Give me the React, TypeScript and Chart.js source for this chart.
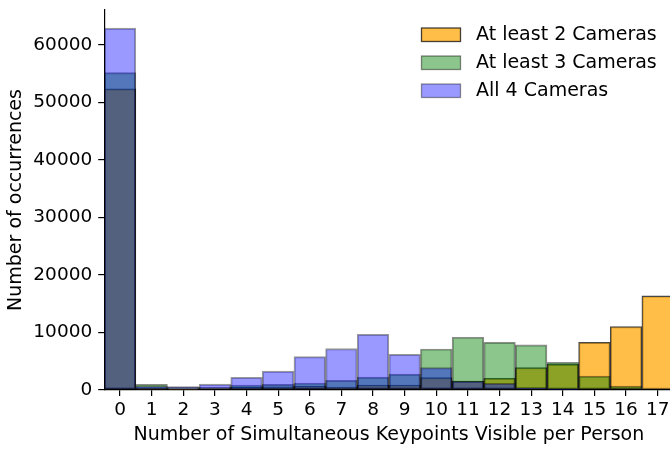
import { useEffect, useRef } from 'react';
import { Chart, registerables } from 'chart.js';

Chart.register(...registerables);

// Histogram bins: number of keypoints seen simultaneously
const binLabels = ['0', '1', '2', '3', '4', '5', '6', '7', '8', '9', '10', '11', '12', '13', '14', '15', '16', '17'];

// Occurrence counts per bin
const atLeast2Cameras = [52350, 300, 200, 350, 500, 570, 700, 520, 870, 870, 2140, 1550, 2030, 3880, 4470, 8290, 11010, 16350];
const atLeast3Cameras = [55180, 1000, 500, 500, 870, 1000, 1220, 1690, 2260, 2780, 7130, 9170, 8290, 7830, 4820, 2430, 700, 0];
const all4Cameras = [62900, 700, 600, 1040, 2200, 3300, 5800, 7180, 9680, 6210, 3900, 1550, 1150, 400, 100, 0, 0, 0];

const seriesNames = ['At least 2 Cameras', 'At least 3 Cameras', 'All 4 Cameras'];
const yTickValues = [0, 10000, 20000, 30000, 40000, 50000, 60000];

const FONT = 'DejaVu Sans';

// Legend drawn in the upper-right corner of the plot, matplotlib style (no frame)
const cornerLegend = {
  id: 'cornerLegend',
  afterDraw(chart: any) {
    const { ctx, chartArea } = chart;
    const boxLeft = chartArea.right - 252;
    const boxW = 39;
    const boxH = 13.5;
    const rowGap = 28;
    ctx.save();
    ctx.font = `19px "${FONT}"`;
    ctx.textAlign = 'left';
    ctx.textBaseline = 'middle';
    chart.data.datasets.forEach((ds: any, i: number) => {
      const top = chartArea.top + 18 + i * rowGap;
      ctx.fillStyle = ds.backgroundColor;
      ctx.fillRect(boxLeft, top, boxW, boxH);
      ctx.strokeStyle = ds.borderColor;
      ctx.lineWidth = 1.3;
      ctx.strokeRect(boxLeft, top, boxW, boxH);
      ctx.fillStyle = '#000';
      ctx.fillText(ds.label, boxLeft + 54.5, top + boxH / 2 + 0.5);
    });
    ctx.restore();
  },
};

export default function App() {
  const canvasRef = useRef<HTMLCanvasElement | null>(null);

  useEffect(() => {
    const canvas = canvasRef.current;
    if (!canvas) return;

    const yMax = Math.max(...atLeast2Cameras, ...atLeast3Cameras, ...all4Cameras) * 1.05;

    const common = {
      grouped: false,
      barPercentage: 1,
      categoryPercentage: 1,
      borderWidth: 1.3,
      borderSkipped: false as const,
    };

    const chart = new Chart(canvas, {
      type: 'bar',
      data: {
        labels: binLabels,
        datasets: [
          {
            ...common,
            label: seriesNames[0],
            data: atLeast2Cameras,
            backgroundColor: 'rgba(255,165,0,0.72)',
            borderColor: 'rgba(0,0,0,0.72)',
            order: 3,
          },
          {
            ...common,
            label: seriesNames[1],
            data: atLeast3Cameras,
            backgroundColor: 'rgba(0,128,0,0.45)',
            borderColor: 'rgba(0,0,0,0.45)',
            order: 2,
          },
          {
            ...common,
            label: seriesNames[2],
            data: all4Cameras,
            backgroundColor: 'rgba(0,0,255,0.4)',
            borderColor: 'rgba(0,0,0,0.4)',
            order: 1,
          },
        ],
      },
      options: {
        animation: false,
        responsive: false,
        maintainAspectRatio: false,
        devicePixelRatio: 1,
        layout: { padding: { left: 0, top: 10, right: 6.5, bottom: 0 } },
        plugins: {
          legend: { display: false },
          tooltip: { enabled: false },
        },
        scales: {
          x: {
            type: 'category',
            offset: true,
            z: 1,
            grid: {
              offset: false,
              drawOnChartArea: false,
              drawTicks: true,
              tickLength: 6,
              tickWidth: 1.2,
              tickColor: '#000',
              lineWidth: 1.2,
              color: '#000',
            },
            border: { display: true, color: '#000', width: 1.2 },
            ticks: {
              color: '#000',
              font: { family: FONT, size: 18.5 },
              padding: 3,
              maxRotation: 0,
              autoSkip: false,
            },
            title: {
              display: true,
              text: 'Number of Simultaneous Keypoints Visible per Person',
              color: '#000',
              font: { family: FONT, size: 19 },
              padding: { top: 0, bottom: 2.6 },
            },
            afterFit(scale: any) {
              scale.height = 59;
              scale.paddingLeft = 0;
              scale.paddingRight = 0;
            },
          },
          y: {
            type: 'linear',
            min: 0,
            max: yMax,
            z: 1,
            grid: {
              drawOnChartArea: false,
              drawTicks: true,
              tickLength: 6,
              tickWidth: 1.2,
              tickColor: '#000',
              lineWidth: 1.2,
              color: '#000',
            },
            border: { display: true, color: '#000', width: 1.2 },
            ticks: {
              color: '#000',
              font: { family: FONT, size: 18.5 },
              padding: 6,
              callback: (v: any) => String(v),
            },
            afterBuildTicks(scale: any) {
              scale.ticks = yTickValues.map((value) => ({ value }));
            },
            title: {
              display: true,
              text: 'Number of occurrences',
              color: '#000',
              font: { family: FONT, size: 19 },
              padding: { top: 4.6, bottom: 0 },
            },
            afterFit(scale: any) {
              scale.width = 104.2;
              scale.paddingTop = 0;
              scale.paddingBottom = 0;
            },
          },
        },
      },
      plugins: [cornerLegend],
    });

    return () => chart.destroy();
  }, []);

  return (
    <div
      style={{
        position: 'fixed',
        left: 0,
        top: 0,
        width: 670,
        height: 449,
        overflow: 'hidden',
        background: '#fff',
      }}
    >
      <canvas ref={canvasRef} width={680} height={449} style={{ width: 680, height: 449, display: 'block' }} />
    </div>
  );
}
